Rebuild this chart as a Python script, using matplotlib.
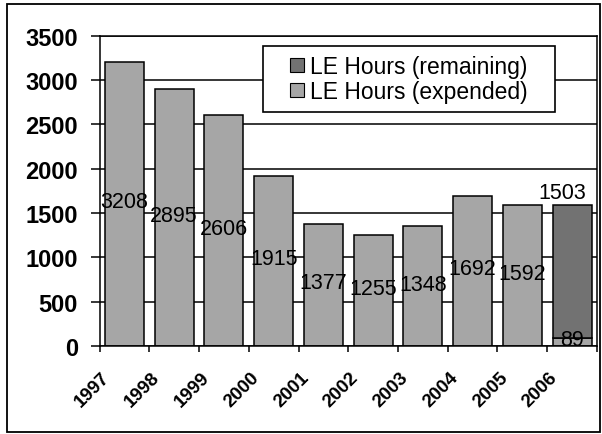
import matplotlib
matplotlib.use('Agg')
import matplotlib.pyplot as plt
import numpy as np
from matplotlib.patches import Rectangle

plt.rcParams['font.family'] = ['Liberation Sans', 'DejaVu Sans']

# ---- data ----
years = ['1997', '1998', '1999', '2000', '2001', '2002', '2003', '2004', '2005', '2006']
expended = [3208, 2895, 2606, 1915, 1377, 1255, 1348, 1692, 1592, 89]
remaining = [0, 0, 0, 0, 0, 0, 0, 0, 0, 1503]
series_names = ['LE Hours (remaining)', 'LE Hours (expended)']
yticks = [0, 500, 1000, 1500, 2000, 2500, 3000, 3500]

# ---- style ----
c_exp = '#a6a6a6'
c_rem = '#727272'
W, H = 602, 435

fig = plt.figure(figsize=(W / 100, H / 100), dpi=100)
fig.patch.set_facecolor('white')

# outer chart border
fig.patches.append(Rectangle((7 / W, 2 / H), (600 - 7) / W, (430 - 2) / H,
                             transform=fig.transFigure, fill=False,
                             edgecolor='black', lw=1.3))

ax = fig.add_axes([99.5 / W, 1 - 347 / H, (597 - 99.5) / W, (347 - 36.7) / H])
x = np.arange(len(years))
exp = np.array(expended)
rem = np.array(remaining)

ax.set_axisbelow(True)
ax.yaxis.grid(True, color='black', lw=1.1, zorder=0)

ax.bar(x, exp, width=0.78, color=c_exp, edgecolor='black', lw=1.1, zorder=2)
m = rem > 0
ax.bar(x[m], rem[m], bottom=exp[m], width=0.78, color=c_rem,
       edgecolor='black', lw=1.1, zorder=2)

ax.set_xlim(-0.5, len(years) - 0.5)
ax.set_ylim(0, 3500)
ax.set_yticks(yticks)
ax.set_yticklabels([str(v) for v in yticks], fontsize=17, fontweight='bold')
ax.tick_params(axis='y', direction='out', length=6.5, width=1.1, pad=9)

ax.set_xticks(np.arange(-0.5, len(years), 1.0))
ax.set_xticklabels([])
ax.tick_params(axis='x', direction='out', length=4.5, width=1.1)

for s in ax.spines.values():
    s.set_color('black')
    s.set_linewidth(1.1)

# year labels
for xi, yr in zip(x, years):
    ax.annotate(yr, xy=(xi, 0), xycoords=('data', 'axes fraction'),
                xytext=(-8, -16), textcoords='offset points',
                ha='right', va='top', rotation=45, fontsize=13.5,
                fontweight='bold')

# data labels
for xi, e, r in zip(x, exp, rem):
    ax.text(xi, e / 2 + 25, str(e), ha='center', va='center',
            fontsize=15.5, zorder=5)
    if r > 0:
        ax.annotate(str(r), xy=(xi, e + r), xytext=(-7, 1),
                    textcoords='offset points', ha='center',
                    va='bottom', fontsize=15.5, zorder=5)

# legend with manual frame
x0 = (263 - 99.5) / 497.5
x1 = (555 - 99.5) / 497.5
y0 = (347 - 113) / 310.3
y1 = (347 - 47) / 310.3
ax.add_patch(Rectangle((x0, y0), x1 - x0, y1 - y0, transform=ax.transAxes,
                       facecolor='white', edgecolor='black', lw=1.2, zorder=3))
handles = [Rectangle((0, 0), 1, 1, facecolor=c_rem, edgecolor='black', lw=0.8),
           Rectangle((0, 0), 1, 1, facecolor=c_exp, edgecolor='black', lw=0.8)]
leg = ax.legend(handles, series_names, loc='center',
                bbox_to_anchor=((x0 + x1) / 2, (y0 + y1) / 2),
                frameon=False, fontsize=16.5, handlelength=0.6,
                handleheight=0.6, handletextpad=0.25, labelspacing=0.1,
                borderpad=0.2)
leg.set_zorder(4)

fig.savefig('out.png', dpi=100, facecolor='white')
